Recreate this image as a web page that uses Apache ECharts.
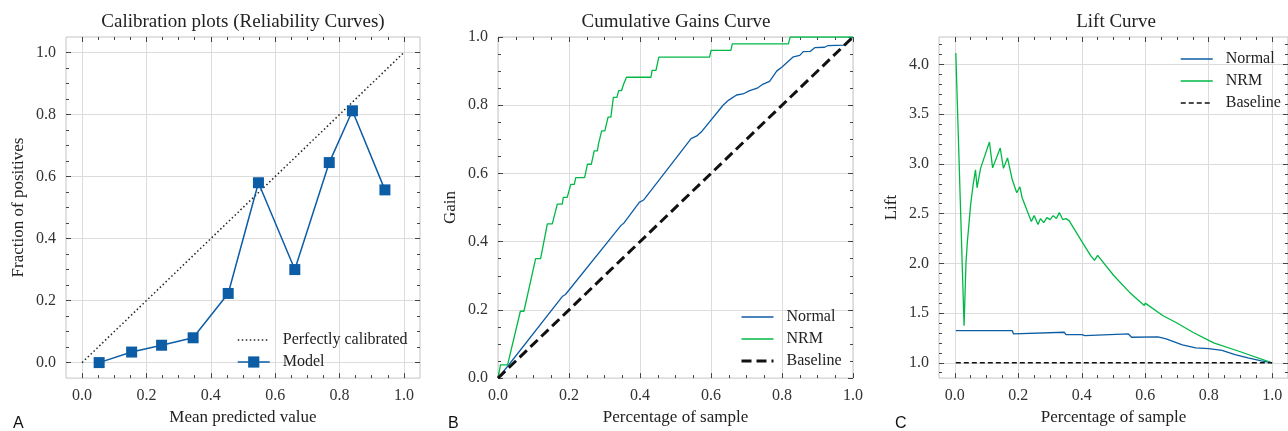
<!DOCTYPE html>
<html>
<head>
<meta charset="utf-8">
<script src="https://cdn.jsdelivr.net/npm/echarts@6/dist/echarts.min.js"></script>
<style>
html, body { margin: 0; padding: 0; background: #fff; }
#chart { width: 1288px; height: 431px; }
</style>
</head>
<body>
<div id="chart"></div>
<script>
// calibration (reliability) points
const calibX = [0.053, 0.154, 0.247, 0.345, 0.454, 0.548, 0.661, 0.768, 0.840, 0.941];
const calibY = [0.000, 0.034, 0.056, 0.080, 0.223, 0.580, 0.300, 0.645, 0.812, 0.557];

// cumulative gains
const gainNormalX = [0, 0.029, 0.181, 0.19, 0.346, 0.355, 0.398, 0.41, 0.544, 0.56, 0.573, 0.634, 0.65, 0.672, 0.69, 0.709, 0.73, 0.747, 0.765, 0.785, 0.8, 0.832, 0.85, 0.86, 0.88, 0.893, 0.92, 0.93, 0.975, 1.0];
const gainNormalY = [0, 0.037, 0.239, 0.245, 0.447, 0.455, 0.515, 0.522, 0.702, 0.71, 0.722, 0.80, 0.815, 0.830, 0.833, 0.843, 0.85, 0.862, 0.87, 0.90, 0.912, 0.942, 0.946, 0.957, 0.958, 0.969, 0.97, 0.975, 0.976, 1.0];
const gainNrmX = [0, 0.007, 0.027, 0.063, 0.073, 0.106, 0.12, 0.139, 0.153, 0.167, 0.181, 0.184, 0.195, 0.205, 0.215, 0.219, 0.244, 0.252, 0.263, 0.271, 0.28, 0.283, 0.287, 0.292, 0.301, 0.31, 0.318, 0.325, 0.335, 0.34, 0.348, 0.354, 0.358, 0.362, 0.431, 0.434, 0.445, 0.453, 0.596, 0.6, 0.656, 0.66, 0.818, 0.823, 1.0];
const gainNrmY = [0, 0.039, 0.039, 0.196, 0.196, 0.350, 0.350, 0.452, 0.452, 0.510, 0.510, 0.530, 0.530, 0.568, 0.568, 0.588, 0.588, 0.627, 0.627, 0.666, 0.666, 0.686, 0.686, 0.725, 0.725, 0.765, 0.765, 0.823, 0.823, 0.843, 0.843, 0.862, 0.862, 0.882, 0.882, 0.902, 0.902, 0.941, 0.941, 0.961, 0.961, 0.980, 0.980, 1.0, 1.0];
const gainBaseX = [0, 1];
const gainBaseY = [0, 1];

// lift
const liftNormalX = [0.003, 0.181, 0.185, 0.345, 0.35, 0.40, 0.41, 0.547, 0.557, 0.64, 0.666, 0.717, 0.759, 0.80, 0.842, 0.883, 0.924, 0.966, 1.0];
const liftNormalY = [1.323, 1.323, 1.29, 1.307, 1.284, 1.284, 1.274, 1.29, 1.257, 1.26, 1.241, 1.18, 1.149, 1.143, 1.125, 1.083, 1.05, 1.02, 1.0];
const liftNrmX = [0.003, 0.0093, 0.029, 0.035, 0.039, 0.0497, 0.058, 0.065, 0.070, 0.081, 0.109, 0.119, 0.143, 0.153, 0.166, 0.181, 0.186, 0.195, 0.205, 0.212, 0.217, 0.241, 0.250, 0.262, 0.27, 0.28, 0.29, 0.30, 0.31, 0.32, 0.329, 0.34, 0.35, 0.36, 0.40, 0.4275, 0.44, 0.45, 0.50, 0.55, 0.597, 0.60, 0.655, 0.66, 0.70, 0.75, 0.80, 0.818, 0.823, 0.90, 1.0];
const liftNrmY = [4.115, 4.115, 1.373, 2.0, 2.2, 2.59, 2.8, 2.94, 2.76, 2.955, 3.22, 2.96, 3.16, 2.955, 3.06, 2.84, 2.86, 2.71, 2.77, 2.66, 2.68, 2.42, 2.48, 2.39, 2.45, 2.41, 2.46, 2.44, 2.48, 2.45, 2.51, 2.44, 2.45, 2.43, 2.22, 2.08, 2.03, 2.08, 1.88, 1.71, 1.575, 1.60, 1.475, 1.49, 1.40, 1.307, 1.225, 1.198, 1.215, 1.111, 1.0];
const liftBaseX = [0.003, 1.0];
const liftBaseY = [1, 1];

// tick values
const unitTicks = [0, 0.2, 0.4, 0.6, 0.8, 1.0];
const unitMinor = [0.05, 0.1, 0.15, 0.25, 0.3, 0.35, 0.45, 0.5, 0.55, 0.65, 0.7, 0.75, 0.85, 0.9, 0.95];
const liftTicks = [1.0, 1.5, 2.0, 2.5, 3.0, 3.5, 4.0];
const liftMinor = [0.9, 1.1, 1.2, 1.3, 1.4, 1.6, 1.7, 1.8, 1.9, 2.1, 2.2, 2.3, 2.4, 2.6, 2.7, 2.8, 2.9, 3.1, 3.2, 3.3, 3.4, 3.6, 3.7, 3.8, 3.9, 4.1, 4.2];

const SERIF = '"Liberation Serif", "DejaVu Serif", serif';
const SANS = '"Liberation Sans", sans-serif';
const BLUE = '#0C5DA5';
const GREEN = '#00B945';

const pts = (xs, ys) => xs.map((x, i) => [x, ys[i]]);

// axis that only draws inward ticks at given values
function tickAxis(gi, pos, min, max, values, len) {
    return {
        type: 'value', gridIndex: gi, position: pos, min: min, max: max,
        axisLine: { show: false, onZero: false },
        axisTick: { show: true, inside: true, length: len, customValues: values, lineStyle: { color: '#444' } },
        axisLabel: { show: false },
        splitLine: { show: false }
    };
}

function mainAxis(gi, pos, min, max, values, name, gap) {
    const a = tickAxis(gi, pos, min, max, values, 5);
    a.name = name;
    a.nameLocation = 'middle';
    a.nameGap = gap;
    a.nameTextStyle = { fontFamily: SERIF, fontSize: 17, color: '#222' };
    a.axisLabel = { show: true, customValues: values, fontFamily: SERIF, fontSize: 16, color: '#333', margin: 10,
        formatter: v => v.toFixed(1) };
    a.splitLine = { show: true, lineStyle: { color: '#dcdcdc' } };
    return a;
}

// all four sides of one panel
function panelAxes(gi, xr, yr, xTicks, xMinor, yTicks, yMinor, xName, yName) {
    return {
        x: [
            mainAxis(gi, 'bottom', xr[0], xr[1], xTicks, xName, 29),
            tickAxis(gi, 'bottom', xr[0], xr[1], xMinor, 3),
            tickAxis(gi, 'top', xr[0], xr[1], xTicks, 5),
            tickAxis(gi, 'top', xr[0], xr[1], xMinor, 3)
        ],
        y: [
            mainAxis(gi, 'left', yr[0], yr[1], yTicks, yName, 39),
            tickAxis(gi, 'left', yr[0], yr[1], yMinor, 3),
            tickAxis(gi, 'right', yr[0], yr[1], yTicks, 5),
            tickAxis(gi, 'right', yr[0], yr[1], yMinor, 3)
        ]
    };
}

const pA = panelAxes(0, [-0.05, 1.05], [-0.05, 1.05], unitTicks, unitMinor, unitTicks, unitMinor, 'Mean predicted value', 'Fraction of positives');
const pB = panelAxes(1, [0, 1], [0, 1], unitTicks, unitMinor, unitTicks, unitMinor, 'Percentage of sample', 'Gain');
const pC = panelAxes(2, [-0.05, 1.05], [0.846, 4.276], unitTicks, unitMinor, liftTicks, liftMinor, 'Percentage of sample', 'Lift');

const legendText = { fontFamily: SERIF, fontSize: 16, color: '#222', padding: [0, 0, 0, 8] };
const noDot = { opacity: 0 };
const legendBase = { orient: 'vertical', padding: 0, itemWidth: 32, itemHeight: 14, itemGap: 6,
    textStyle: legendText, lineStyle: { width: 1.4 } };

const chart = echarts.init(document.getElementById('chart'));
const option = {
    animation: false,
    backgroundColor: '#fff',
    grid: [
        { left: 66, top: 37, width: 354, height: 346, show: true, borderColor: '#c4c4c4' },
        { left: 498, top: 37, width: 355, height: 346, show: true, borderColor: '#c4c4c4' },
        { left: 939, top: 37, width: 355, height: 346, show: true, borderColor: '#c4c4c4' }
    ],
    // index 0 / 4 / 8 are the labelled axes of panels A / B / C
    xAxis: pA.x.concat(pB.x, pC.x),
    yAxis: pA.y.concat(pB.y, pC.y),
    legend: [
        Object.assign({}, legendBase, {
            left: 237, top: 332,
            data: [{ name: 'Perfectly calibrated', itemStyle: noDot, lineStyle: { width: 1.5 } },
                   { name: 'Model', lineStyle: { width: 1.5 } }]
        }),
        Object.assign({}, legendBase, {
            left: 740, top: 309,
            data: [{ name: 'Normal', itemStyle: noDot }, { name: 'NRM', itemStyle: noDot },
                   { name: 'Baseline', itemStyle: noDot, lineStyle: { width: 3 } }]
        }),
        Object.assign({}, legendBase, {
            left: 1180, top: 51,
            data: [{ name: 'Normal ', itemStyle: noDot }, { name: 'NRM ', itemStyle: noDot },
                   { name: 'Baseline ', itemStyle: noDot, lineStyle: { width: 1.5 } }],
            formatter: n => n.trim()
        })
    ],
    series: [
        { name: 'Perfectly calibrated', type: 'line', xAxisIndex: 0, yAxisIndex: 0,
          data: pts([0, 1], [0, 1]), symbol: 'none',
          lineStyle: { color: '#222', width: 1.5, type: [1.5, 2.5] }, itemStyle: { color: '#222' } },
        { name: 'Model', type: 'line', xAxisIndex: 0, yAxisIndex: 0,
          data: pts(calibX, calibY), symbol: 'rect', symbolSize: 11,
          lineStyle: { color: BLUE, width: 1.5 }, itemStyle: { color: BLUE } },

        { name: 'Normal', type: 'line', xAxisIndex: 4, yAxisIndex: 4,
          data: pts(gainNormalX, gainNormalY), symbol: 'none',
          lineStyle: { color: BLUE, width: 1.3 }, itemStyle: { color: BLUE } },
        { name: 'NRM', type: 'line', xAxisIndex: 4, yAxisIndex: 4,
          data: pts(gainNrmX, gainNrmY), symbol: 'none',
          lineStyle: { color: GREEN, width: 1.3 }, itemStyle: { color: GREEN } },
        { name: 'Baseline', type: 'line', xAxisIndex: 4, yAxisIndex: 4,
          data: pts(gainBaseX, gainBaseY), symbol: 'none',
          lineStyle: { color: '#111', width: 3, type: [10, 5] }, itemStyle: { color: '#111' } },

        { name: 'Normal ', type: 'line', xAxisIndex: 8, yAxisIndex: 8,
          data: pts(liftNormalX, liftNormalY), symbol: 'none',
          lineStyle: { color: BLUE, width: 1.3 }, itemStyle: { color: BLUE } },
        { name: 'NRM ', type: 'line', xAxisIndex: 8, yAxisIndex: 8,
          data: pts(liftNrmX, liftNrmY), symbol: 'none',
          lineStyle: { color: GREEN, width: 1.3 }, itemStyle: { color: GREEN } },
        { name: 'Baseline ', type: 'line', xAxisIndex: 8, yAxisIndex: 8,
          data: pts(liftBaseX, liftBaseY), symbol: 'none',
          lineStyle: { color: '#111', width: 1.5, type: [5, 3] }, itemStyle: { color: '#111' } }
    ],
    graphic: [
        { type: 'text', x: 243, y: 22, style: { text: 'Calibration plots (Reliability Curves)', align: 'center', verticalAlign: 'middle', fontFamily: SERIF, fontSize: 19, fill: '#222' } },
        { type: 'text', x: 676, y: 22, style: { text: 'Cumulative Gains Curve', align: 'center', verticalAlign: 'middle', fontFamily: SERIF, fontSize: 19, fill: '#222' } },
        { type: 'text', x: 1116, y: 22, style: { text: 'Lift Curve', align: 'center', verticalAlign: 'middle', fontFamily: SERIF, fontSize: 19, fill: '#222' } },
        { type: 'text', x: 13, y: 424, style: { text: 'A', verticalAlign: 'middle', fontFamily: SANS, fontSize: 16, fill: '#111' } },
        { type: 'text', x: 448, y: 424, style: { text: 'B', verticalAlign: 'middle', fontFamily: SANS, fontSize: 16, fill: '#111' } },
        { type: 'text', x: 895, y: 424, style: { text: 'C', verticalAlign: 'middle', fontFamily: SANS, fontSize: 16, fill: '#111' } }
    ]
};
chart.setOption(option);
</script>
</body>
</html>
